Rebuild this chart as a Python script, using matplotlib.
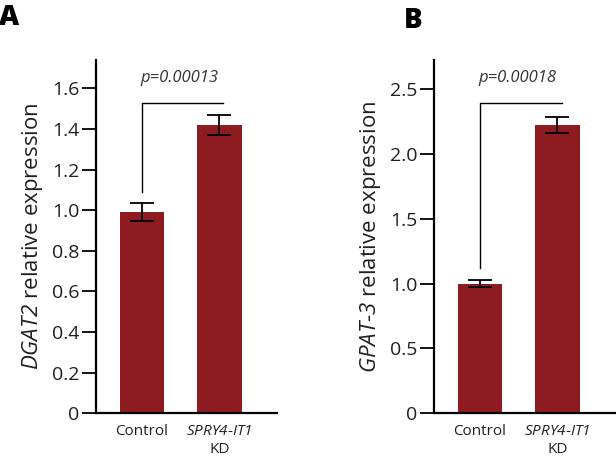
import matplotlib
matplotlib.use("Agg")
import matplotlib.pyplot as plt

plt.rcParams['font.family'] = ['Open Sans', 'DejaVu Sans']
plt.rcParams['mathtext.fontset'] = 'custom'
plt.rcParams['mathtext.it'] = 'Open Sans:italic'
plt.rcParams['mathtext.rm'] = 'Open Sans:italic'
plt.rcParams['mathtext.default'] = 'it'

categories = ["Control", "$SPRY4$-$IT1$\nKD"]
dgat2_values = [0.99, 1.42]
dgat2_errors = [0.045, 0.05]
gpat3_values = [1.00, 2.225]
gpat3_errors = [0.025, 0.06]
dgat2_ticks = [0, 0.2, 0.4, 0.6, 0.8, 1.0, 1.2, 1.4, 1.6]
dgat2_ticklabels = ["0", "0.2", "0.4", "0.6", "0.8", "1.0", "1.2", "1.4", "1.6"]
gpat3_ticks = [0, 0.5, 1.0, 1.5, 2.0, 2.5]
gpat3_ticklabels = ["0", "0.5", "1.0", "1.5", "2.0", "2.5"]
pvals = ["p=0.00013", "p=0.00018"]

bar_color = "#8e1b1f"
text_color = "#231f20"

fig = plt.figure(figsize=(6.16, 4.59), dpi=100)

def panel(rect, values, errors, ticks, ticklabels, ylim, ylabel, bracket, ptext, ptext_y, xright):
    ax = fig.add_axes(rect)
    x = [0, 1]
    ax.bar(x, values, width=0.57, color=bar_color, yerr=errors,
           error_kw=dict(ecolor="black", elinewidth=1.3, capsize=8.5, capthick=1.3))
    ax.set_xlim(-0.594, xright)
    ax.set_ylim(0, ylim)
    ax.set_yticks(ticks)
    ax.set_yticklabels(ticklabels, fontsize=14, color=text_color)
    ax.set_xticks(x)
    ax.set_xticklabels(categories, fontsize=11, color=text_color, linespacing=1.25)
    ax.tick_params(axis='x', length=0, pad=8)
    ax.tick_params(axis='y', length=10, width=1.3, pad=2, color="black")
    for s in ['top', 'right']:
        ax.spines[s].set_visible(False)
    for s in ['left', 'bottom']:
        ax.spines[s].set_linewidth(1.6)
    ax.set_ylabel(ylabel, fontsize=16, color=text_color, labelpad=5)
    bx0, bx1, by0, by1 = bracket
    ax.plot([bx0, bx0, bx1], [by0, by1, by1], color="black", lw=1.0)
    ax.text(0.48, ptext_y, ptext, style='italic', fontsize=12, color="#333333",
            ha='center', va='center')
    return ax

axA = panel([0.1558, 0.0996, 0.2938, 0.7697], dgat2_values, dgat2_errors,
            dgat2_ticks, dgat2_ticklabels, 1.74,
            "$DGAT2$ relative expression", (0, 1.045, 1.09, 1.527),
            pvals[0], 1.652, 1.742)
axB = panel([0.7045, 0.0996, 0.2955, 0.7697], gpat3_values, gpat3_errors,
            gpat3_ticks, gpat3_ticklabels, 2.726,
            "$GPAT$-$3$ relative expression", (0, 1.054, 1.119, 2.393),
            pvals[1], 2.587, 1.755)

fig.text(-0.002, 0.993, "A", fontsize=20, fontweight='heavy', ha='left', va='top', color="black")
fig.text(0.655, 0.987, "B", fontsize=20, fontweight='heavy', ha='left', va='top', color="black")

fig.savefig("out.png", dpi=100)
